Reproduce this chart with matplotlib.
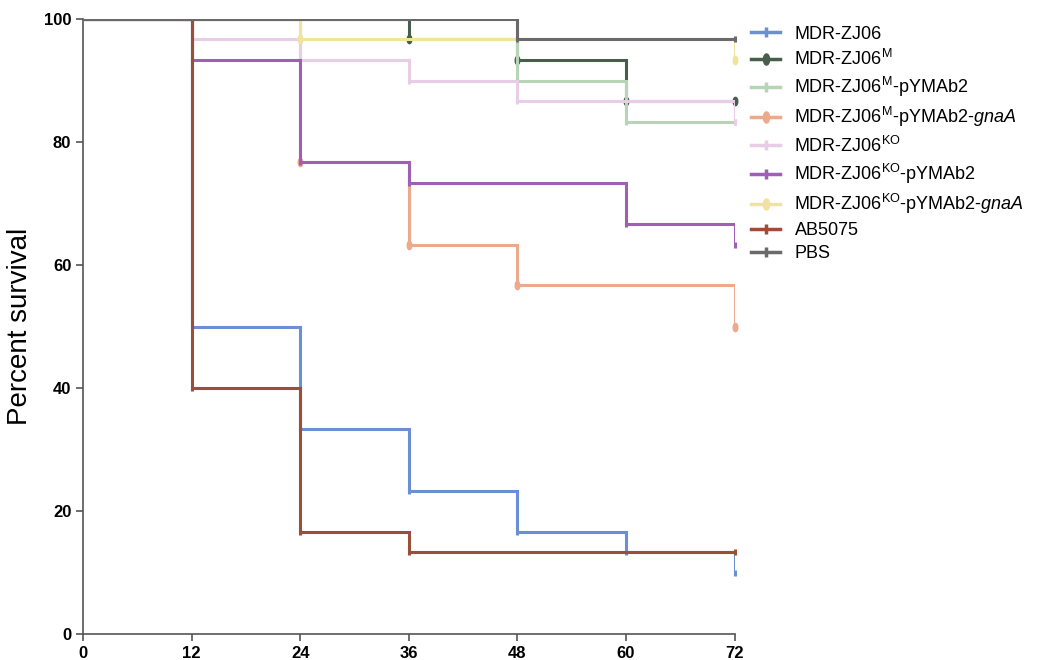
import numpy as np
import matplotlib
matplotlib.use("Agg")
import matplotlib.pyplot as plt
from matplotlib.path import Path

plt.rcParams['font.family'] = ['Liberation Sans', 'DejaVu Sans']
plt.rcParams['mathtext.fontset'] = 'custom'
plt.rcParams['mathtext.rm'] = 'Liberation Sans'
plt.rcParams['mathtext.it'] = 'Liberation Sans:italic'

labels = [
    'MDR-ZJ06',
    r'MDR-ZJ06$^{\mathrm{M}}$',
    r'MDR-ZJ06$^{\mathrm{M}}$-pYMAb2',
    r'MDR-ZJ06$^{\mathrm{M}}$-pYMAb2-$\mathit{gnaA}$',
    r'MDR-ZJ06$^{\mathrm{KO}}$',
    r'MDR-ZJ06$^{\mathrm{KO}}$-pYMAb2',
    r'MDR-ZJ06$^{\mathrm{KO}}$-pYMAb2-$\mathit{gnaA}$',
    'AB5075',
    'PBS',
]
colors = ['#6a8fd4', '#475e4c', '#b7d4b7', '#eca98c', '#e8cde6',
          '#9d60b4', '#f0e49c', '#9b4e38', '#6a6a6a']
oval = [False, True, False, True, False, False, True, False, False]

# event times and survival after each event (starts at t=0, 100%)
times = [
    [0, 12, 24, 36, 48, 60, 72],
    [0, 36, 48, 60, 72],
    [0, 48, 60, 72],
    [0, 24, 36, 48, 72],
    [0, 12, 24, 36, 48, 72],
    [0, 12, 24, 36, 60, 72],
    [0, 24, 72],
    [0, 12, 24, 36, 72],
    [0, 48, 72],
]
surv = [
    [100, 50, 33.3, 23.3, 16.7, 13.3, 10.0],
    [100, 96.7, 93.3, 86.7, 86.7],
    [100, 90, 83.3, 83.3],
    [100, 76.7, 63.3, 56.7, 50.0],
    [100, 96.7, 93.3, 90, 86.7, 83.3],
    [100, 93.3, 76.7, 73.3, 66.7, 63.3],
    [100, 96.7, 93.3],
    [100, 40, 16.7, 13.3, 13.3],
    [100, 96.7, 96.7],
]
xticks = [0, 12, 24, 36, 48, 60, 72]
yticks = [0, 20, 40, 60, 80, 100]

# vertical ellipse marker
th = np.linspace(0, 2 * np.pi, 40)
ell = Path(np.column_stack([0.55 * np.cos(th), np.sin(th)]))

fig = plt.figure(figsize=(10.39, 6.60), dpi=100)
ax = fig.add_axes([0.080, 0.039, 0.627, 0.932])

handles = []
for i in range(len(labels)):
    t = times[i]
    s = surv[i]
    ax.step(t, s, where='post', color=colors[i], lw=2.2, zorder=2 + i,
            solid_joinstyle='miter')
    if oval[i]:
        ax.plot(t[1:], s[1:], ls='none', marker=ell, ms=6, color=colors[i],
                zorder=2 + i, clip_on=False)
        h, = ax.plot([], [], color=colors[i], lw=2.5, marker=ell, ms=8)
    else:
        ax.plot(t[1:], s[1:], ls='none', marker='|', ms=5, mew=2.2,
                color=colors[i], zorder=2 + i, clip_on=False)
        h, = ax.plot([], [], color=colors[i], lw=2.5, marker='|', ms=7, mew=2.5)
    handles.append(h)

ax.set_xlim(0, 72)
ax.set_ylim(0, 100)
ax.set_xticks(xticks)
ax.set_yticks(yticks)
ax.spines['top'].set_visible(False)
ax.spines['right'].set_visible(False)
for sp in ['left', 'bottom']:
    ax.spines[sp].set_color('#555555')
    ax.spines[sp].set_linewidth(1.2)
ax.tick_params(direction='out', length=5, width=1.2, color='#555555',
               labelsize=12)
for lab in ax.get_xticklabels() + ax.get_yticklabels():
    lab.set_fontweight('bold')
ax.set_ylabel('Percent survival', fontsize=20, labelpad=8)

fig.legend(handles, labels, loc='upper left', bbox_to_anchor=(0.716, 0.972),
           frameon=False, fontsize=13, handlelength=1.6, handletextpad=0.8,
           labelspacing=0.34, borderaxespad=0)

fig.savefig('out.png', dpi=100)
